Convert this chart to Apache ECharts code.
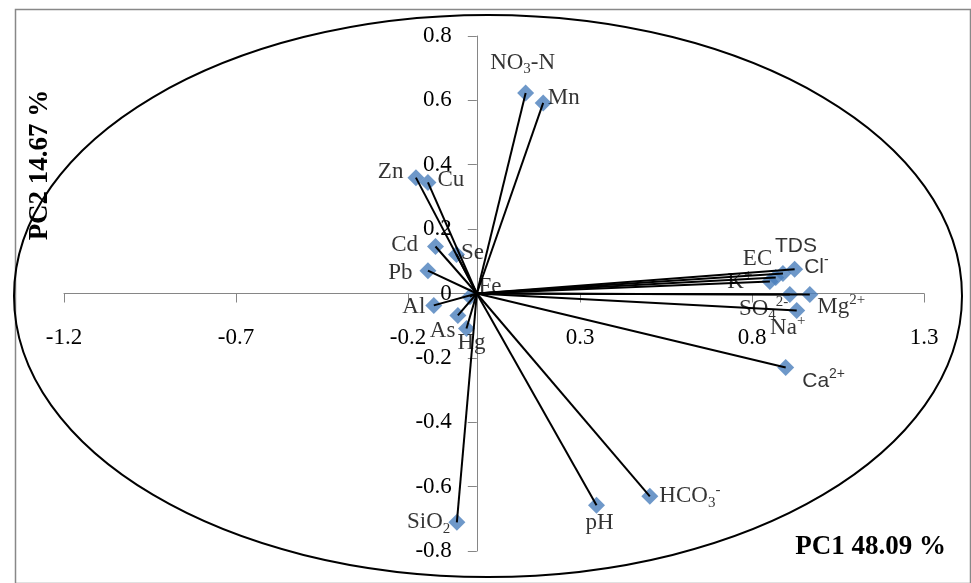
<!DOCTYPE html>
<html>
<head>
<meta charset="utf-8">
<script src="https://cdn.jsdelivr.net/npm/echarts@6/dist/echarts.min.js"></script>
<style>
  html, body { margin: 0; padding: 0; background: #fff; }
  #chart { width: 971px; height: 583px; }
</style>
</head>
<body>
<div id="chart"></div>
<script>
// variables and their loadings on the two components
var names = ['NO3-N', 'Mn', 'Zn', 'Cu', 'Cd', 'Se', 'Pb', 'Fe', 'Al', 'As', 'Hg',
             'EC', 'TDS', 'K+', 'Cl-', 'SO4 2-', 'Mg2+', 'Na+', 'Ca2+', 'HCO3-', 'pH', 'SiO2'];
var pc1 = [0.142, 0.193, -0.177, -0.142, -0.12, -0.059, -0.142, -0.02, -0.125, -0.055, -0.03,
           0.869, 0.89, 0.852, 0.924, 0.91, 0.968, 0.93, 0.898, 0.503, 0.348, -0.058];
var pc2 = [0.623, 0.592, 0.36, 0.345, 0.146, 0.121, 0.071, -0.01, -0.037, -0.068, -0.109,
           0.05, 0.062, 0.037, 0.075, -0.003, -0.003, -0.053, -0.23, -0.63, -0.658, -0.711];

var xTicks = [-1.2, -0.7, -0.2, 0.3, 0.8, 1.3];
var yTicks = [-0.8, -0.6, -0.4, -0.2, 0, 0.2, 0.4, 0.6, 0.8];

var xTitle = 'PC1 48.09 %';
var yTitle = 'PC2 14.67 %';

// label text with sub/superscripts
var labelText = {
    'NO3-N': '{a|NO}{b|3}{a|-N}',
    'K+': '{a|K}{c|+}',
    'Cl-': '{s|Cl}{t|-}',
    'SO4 2-': '{a|SO}{b|4}{c|2-}',
    'Mg2+': '{a|Mg}{c|2+}',
    'Na+': '{a|Na}{c|+}',
    'Ca2+': '{s|Ca}{t|2+}',
    'HCO3-': '{a|HCO}{b|3}{c|-}',
    'SiO2': '{a|SiO}{b|2}',
    'TDS': '{s|TDS}'
};

// where each label sits around its marker
var labelPlace = {
    'NO3-N': ['top', [-3, -3]],
    'Mn': ['right', [-9, -5]],
    'Zn': ['left', [1, -6]],
    'Cu': ['right', [-4, -3]],
    'Cd': ['left', [-4, -2]],
    'Se': ['right', [-9, -2]],
    'Pb': ['left', [-2, 2]],
    'Fe': ['right', [-5, -10]],
    'Al': ['left', [5, 2]],
    'As': ['left', [11, 16]],
    'Hg': ['bottom', [5, -13]],
    'EC': ['left', [10, -18]],
    'TDS': ['top', [13, 0]],
    'K+': ['left', [-4, 0]],
    'Cl-': ['right', [-4, -2]],
    'SO4 2-': ['left', [12, 14]],
    'Mg2+': ['right', [-6, 12]],
    'Na+': ['bottom', [-9, -10]],
    'Ca2+': ['right', [3, 14]],
    'HCO3-': ['right', [-4, 0]],
    'pH': ['bottom', [3, -10]],
    'SiO2': ['left', [7, 0]]
};

var serif = '"Liberation Serif", "Times New Roman", serif';
var sans = '"Liberation Sans", Arial, sans-serif';

var points = names.map(function (n, i) {
    var p = labelPlace[n];
    return {
        name: n,
        value: [pc1[i], pc2[i]],
        label: { position: p[0], offset: p[1] }
    };
});

var vectors = names.map(function (n, i) {
    return { coords: [[0, 0], [pc1[i], pc2[i]]] };
});

function fmt(v) {
    return String(+v.toFixed(1));
}

// grid box, and where the zero lines fall inside it
var W = 971, H = 583;
var gl = 64, gr = 47, gt = 36, gb = 32;
var xMin = xTicks[0], xMax = xTicks[xTicks.length - 1];
var yMin = yTicks[0], yMax = yTicks[yTicks.length - 1];
var plotW = W - gl - gr, plotH = H - gt - gb;
var yAxisShift = (0 - xMin) / (xMax - xMin) * plotW;
var xAxisShift = (0 - yMin) / (yMax - yMin) * plotH;

var axisColor = '#868686';
var chart = echarts.init(document.getElementById('chart'));

chart.setOption({
    animation: false,
    backgroundColor: '#fff',
    grid: {
        left: gl, right: gr, top: gt, bottom: gb,
        outerBoundsMode: 'none'
    },
    xAxis: {
        type: 'value',
        min: xMin,
        max: xMax,
        interval: 0.5,
        position: 'bottom',
        offset: -xAxisShift,
        axisLine: { show: true, onZero: false, lineStyle: { color: axisColor, width: 1 } },
        axisTick: { show: true, length: 9, lineStyle: { color: axisColor } },
        splitLine: { show: false },
        axisLabel: {
            margin: 33,
            color: '#000',
            fontFamily: serif,
            fontSize: 23,
            formatter: fmt
        }
    },
    yAxis: {
        type: 'value',
        min: yMin,
        max: yMax,
        interval: 0.2,
        position: 'left',
        offset: -yAxisShift,
        axisLine: { show: true, onZero: false, lineStyle: { color: axisColor, width: 1 } },
        axisTick: { show: true, length: 9, lineStyle: { color: axisColor } },
        splitLine: { show: false },
        axisLabel: {
            margin: 25,
            color: '#000',
            fontFamily: serif,
            fontSize: 23,
            formatter: fmt
        }
    },
    series: [
        {
            type: 'scatter',
            symbol: 'diamond',
            symbolSize: 17,
            z: 2,
            itemStyle: { color: '#4A7EBB' },
            data: points,
            label: {
                show: true,
                distance: 5,
                color: '#000',
                fontFamily: serif,
                fontSize: 23,
                formatter: function (p) {
                    return labelText[p.name] || '{a|' + p.name + '}';
                },
                rich: {
                    a: { fontFamily: serif, fontSize: 23, lineHeight: 28, verticalAlign: 'middle', color: '#000' },
                    b: { fontFamily: serif, fontSize: 15, lineHeight: 14, verticalAlign: 'bottom', color: '#000' },
                    c: { fontFamily: serif, fontSize: 15, lineHeight: 14, verticalAlign: 'top', color: '#000' },
                    s: { fontFamily: sans, fontSize: 21, lineHeight: 28, verticalAlign: 'middle', color: '#000' },
                    t: { fontFamily: sans, fontSize: 14, lineHeight: 14, verticalAlign: 'top', color: '#000' }
                }
            },
            emphasis: { disabled: true }
        },
        {
            type: 'lines',
            coordinateSystem: 'cartesian2d',
            z: 3,
            silent: true,
            lineStyle: { color: '#000', width: 2, opacity: 1 },
            data: vectors
        }
    ],
    graphic: [
        {
            type: 'rect',
            left: 13, top: 7,
            shape: { width: 955, height: 574 },
            style: { fill: 'none', stroke: '#888', lineWidth: 1.5 },
            silent: true,
            z: 1
        },
        {
            type: 'ellipse',
            shape: { cx: 488, cy: 296, rx: 474, ry: 281 },
            style: { fill: 'none', stroke: '#000', lineWidth: 2 },
            silent: true,
            z: 10
        },
        {
            type: 'text',
            x: 946, y: 547,
            style: {
                text: xTitle,
                fill: '#000',
                font: 'bold 27px ' + serif,
                align: 'right',
                verticalAlign: 'middle'
            },
            z: 10
        },
        {
            type: 'text',
            x: 40, y: 165,
            rotation: Math.PI / 2,
            style: {
                text: yTitle,
                fill: '#000',
                font: 'bold 27px ' + serif,
                align: 'center',
                verticalAlign: 'middle'
            },
            z: 10
        }
    ]
});
</script>
</body>
</html>
